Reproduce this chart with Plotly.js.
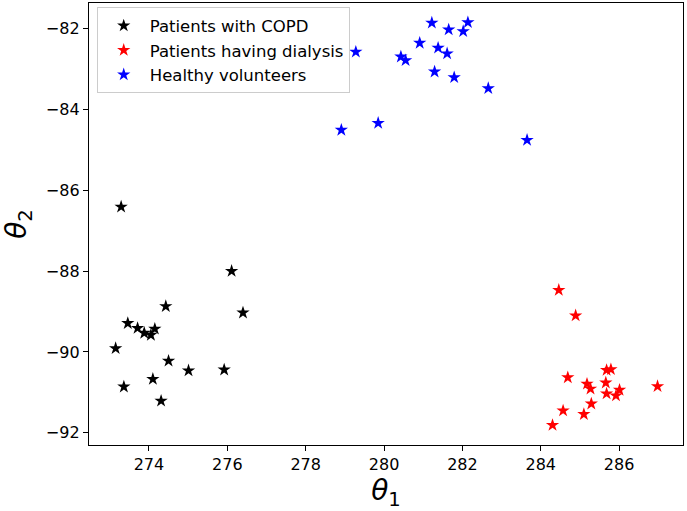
<!DOCTYPE html>
<html>
<head>
<meta charset="utf-8">
<script src="https://cdn.plot.ly/plotly-3.0.1.min.js"></script>
<style>html,body{margin:0;padding:0;background:#fff;}#chart{width:687px;height:511px;}</style>
</head>
<body>
<div id="chart"></div>
<script>
// Patients with COPD
const copdTheta1 = [273.29, 276.11, 274.43, 276.40, 273.46, 273.71, 274.15, 273.88, 274.05, 273.15, 274.50, 275.01, 275.92, 274.10, 273.36, 274.31];
const copdTheta2 = [-86.41, -88.00, -88.87, -89.03, -89.29, -89.41, -89.43, -89.53, -89.58, -89.91, -90.22, -90.46, -90.44, -90.67, -90.86, -91.21];

// Patients having dialysis
const dialTheta1 = [284.46, 284.89, 284.69, 285.68, 285.79, 285.18, 285.27, 285.66, 285.68, 285.92, 286.01, 286.98, 285.29, 285.10, 284.57, 284.30];
const dialTheta2 = [-88.47, -89.10, -90.63, -90.45, -90.43, -90.79, -90.91, -90.76, -91.03, -91.08, -90.94, -90.85, -91.28, -91.54, -91.45, -91.81];

// Healthy volunteers
const healthyTheta1 = [279.28, 278.91, 279.85, 281.22, 281.65, 282.14, 282.02, 280.91, 281.38, 281.61, 280.43, 280.55, 281.29, 281.79, 282.66, 283.65];
const healthyTheta2 = [-82.58, -84.51, -84.34, -81.86, -82.03, -81.85, -82.07, -82.36, -82.48, -82.62, -82.70, -82.79, -83.07, -83.21, -83.48, -84.76];

const seriesNames = ["Patients with COPD", "Patients having dialysis", "Healthy volunteers"];
const seriesColors = ["#000000", "#ff0000", "#0000ff"];

const xTicks = [274, 276, 278, 280, 282, 284, 286];
const yTicks = [-92, -90, -88, -86, -84, -82];

const xs = [copdTheta1, dialTheta1, healthyTheta1];
const ys = [copdTheta2, dialTheta2, healthyTheta2];

const traces = seriesNames.map((name, i) => ({
  type: "scatter",
  mode: "markers",
  name: name,
  x: xs[i],
  y: ys[i],
  marker: {symbol: "star", size: 10, color: seriesColors[i], line: {width: 0}}
}));

const axisCommon = {
  showgrid: false,
  zeroline: false,
  showline: true,
  mirror: true,
  linecolor: "#000",
  linewidth: 1.2,
  ticks: "outside",
  ticklen: 5,
  tickwidth: 1,
  tickcolor: "#000",
  tickfont: {family: "DejaVu Sans", size: 16, color: "#000"}
};

const layout = {
  width: 687,
  height: 511,
  margin: {l: 89, r: 4, t: 3, b: 66},
  paper_bgcolor: "#fff",
  plot_bgcolor: "#fff",
  showlegend: true,
  legend: {
    x: 0.013, y: 0.99, xanchor: "left", yanchor: "top",
    bordercolor: "#cccccc", borderwidth: 1, bgcolor: "rgba(255,255,255,0.8)",
    font: {family: "DejaVu Sans", size: 16.5, color: "#000"},
    itemwidth: 42,
    tracegroupgap: 0
  },
  xaxis: Object.assign({}, axisCommon, {
    range: [272.47, 287.63],
    tickvals: xTicks,
    ticktext: xTicks.map(String),
    title: {text: "<i>θ</i><sub>1</sub>", font: {family: "DejaVu Sans", size: 28, color: "#000"}, standoff: 6}
  }),
  yaxis: Object.assign({}, axisCommon, {
    range: [-92.30, -81.37],
    tickvals: yTicks,
    ticktext: yTicks.map(v => "\u2212" + Math.abs(v)),
    title: {text: "<i>θ</i><sub>2</sub>", font: {family: "DejaVu Sans", size: 28, color: "#000"}, standoff: 12}
  })
};

Plotly.newPlot("chart", traces, layout, {displayModeBar: false, staticPlot: true});
</script>
</body>
</html>
